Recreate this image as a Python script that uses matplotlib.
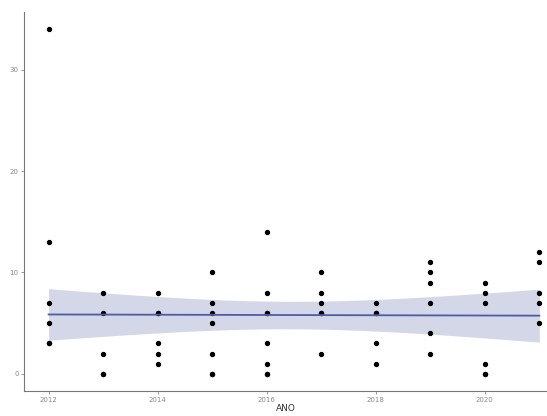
import matplotlib.pyplot as plt
import numpy as np

years = [2012, 2013, 2014, 2015, 2016, 2017, 2018, 2019, 2020, 2021]
# counts per year (overlapping duplicates included)
values = [
    [34, 13, 7, 5, 3, 3],
    [8, 6, 2, 0, 0],
    [8, 6, 6, 3, 2, 1],
    [10, 7, 6, 5, 2, 0, 0],
    [14, 8, 6, 6, 3, 1, 0, 0],
    [10, 8, 7, 6, 6, 2],
    [7, 6, 6, 3, 1],
    [11, 10, 9, 7, 4, 2],
    [9, 8, 7, 1, 0, 0],
    [12, 11, 8, 7, 5],
]

x = np.array([yr for yr, v in zip(years, values) for _ in v], dtype=float)
y = np.array([val for v in values for val in v], dtype=float)

# linear fit with 95% confidence band (like geom_smooth(method = "lm"))
n = len(x)
b, a = np.polyfit(x, y, 1)
resid = y - (a + b * x)
s = np.sqrt(np.sum(resid ** 2) / (n - 2))
xm = x.mean()
sxx = np.sum((x - xm) ** 2)
xs = np.linspace(min(years), max(years), 80)
fit = a + b * xs
se = s * np.sqrt(1 / n + (xs - xm) ** 2 / sxx)
t = 2.0
lo, hi = fit - t * se, fit + t * se

fig = plt.figure(figsize=(5.47, 4.16), dpi=100)
ax = fig.add_axes([0.044, 0.06, 0.956, 0.911])

ax.fill_between(xs, lo, hi, color='#d3d7e7', lw=0, zorder=1)
ax.scatter(x, y, s=8, c='black', zorder=2)
ax.plot(xs, fit, color='#4d5da5', lw=1.3, zorder=3)

ax.set_xlim(2011.55, 2021.14)
ax.set_ylim(-1.7, 35.7)
ax.set_xticks([2012, 2014, 2016, 2018, 2020])
ax.set_yticks([0, 10, 20, 30])
ax.tick_params(labelsize=5, colors='#888888', length=2, width=0.6, pad=2)
for sp in ['top', 'right']:
    ax.spines[sp].set_visible(False)
for sp in ['left', 'bottom']:
    ax.spines[sp].set_color('#777777')
    ax.spines[sp].set_linewidth(0.8)
ax.set_xlabel('ANO', fontsize=6.5, color='#333333', labelpad=1)

fig.savefig('out.png', dpi=100)
